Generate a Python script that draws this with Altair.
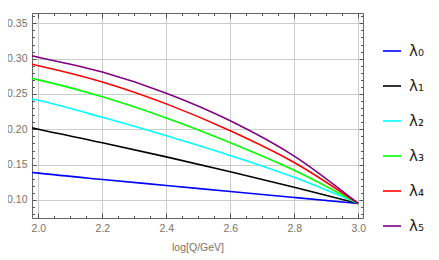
import altair as alt
import pandas as pd

# data
log_q = [1.98, 2.0, 2.2, 2.4, 2.6, 2.8, 3.0]
lam0 = [0.139, 0.138, 0.129, 0.1205, 0.112, 0.1035, 0.095]
lam1 = [0.202, 0.200, 0.181, 0.161, 0.140, 0.118, 0.095]
lam2 = [0.243, 0.241, 0.217, 0.191, 0.163, 0.132, 0.095]
lam3 = [0.272, 0.270, 0.246, 0.216, 0.181, 0.142, 0.095]
lam4 = [0.292, 0.290, 0.267, 0.236, 0.198, 0.153, 0.095]
lam5 = [0.304, 0.302, 0.281, 0.251, 0.212, 0.162, 0.095]
names = ["λ₀", "λ₁", "λ₂", "λ₃", "λ₄", "λ₅"]
colors = ["#0000ff", "#000000", "#00ffff", "#00ff00", "#ff0000", "#800080"]
x_major = [2.0, 2.2, 2.4, 2.6, 2.8, 3.0]
x_minor = [round(2.0 + 0.05 * i, 2) for i in range(21)]
y_major = [0.10, 0.15, 0.20, 0.25, 0.30, 0.35]
y_minor = [round(0.08 + 0.01 * i, 2) for i in range(29)]

rows = []
for name, series in zip(names, [lam0, lam1, lam2, lam3, lam4, lam5]):
    for xv, yv in zip(log_q, series):
        rows.append({"x": xv, "y": yv, "s": name})
df = pd.DataFrame(rows)

xs = alt.Scale(domain=[1.98, 3.015], nice=False, zero=False)
ys = alt.Scale(domain=[0.0745, 0.3646], nice=False, zero=False)
tick_col = "#555555"
lab_col = "#7a7266"


def ax(orient, values, size):
    return alt.Axis(orient=orient, values=values, domain=False, labels=False,
                    grid=False, title=None, tickColor=tick_col, tickWidth=1,
                    ticks=True, tickSize=size, offset=-size)


def layer(xaxis, yaxis, real=False):
    ch = alt.Chart(df)
    if real:
        m = ch.mark_line(strokeWidth=1.6, clip=True, interpolate="monotone")
        color = alt.Color("s:N", scale=alt.Scale(domain=names, range=colors),
                          sort=names,
                          legend=alt.Legend(title=None, orient="none",
                                            legendX=350, legendY=28,
                                            symbolType="stroke",
                                            symbolSize=324,
                                            symbolStrokeWidth=1.6,
                                            rowPadding=17, padding=0,
                                            labelOffset=7,
                                            labelFont="DejaVu Sans",
                                            labelFontSize=15,
                                            labelColor="#222222"))
        return m.encode(x=alt.X("x:Q", scale=xs, axis=xaxis),
                        y=alt.Y("y:Q", scale=ys, axis=yaxis), color=color)
    m = ch.mark_line(opacity=0, clip=True)
    return m.encode(x=alt.X("x:Q", scale=xs, axis=xaxis),
                    y=alt.Y("y:Q", scale=ys, axis=yaxis), detail="s:N")


title_x = alt.Axis(orient="bottom", values=x_major, domain=False, ticks=False,
                   grid=True, gridColor="#cccccc", format=".1f",
                   labelFont="Liberation Sans", labelFontSize=10.5,
                   labelColor=lab_col, labelPadding=5,
                   title="log[Q/GeV]", titleFont="Liberation Sans",
                   titleFontSize=10.5, titleFontWeight="normal",
                   titleColor=lab_col, titlePadding=9)
title_y = alt.Axis(orient="left", values=y_major, domain=False, ticks=False,
                   grid=True, gridColor="#cccccc", format=".2f",
                   labelFont="Liberation Sans", labelFontSize=10.5,
                   labelColor=lab_col, labelPadding=5, title=None)

layers = [
    layer(title_x, title_y, real=True),
    layer(ax("bottom", x_major, 5), ax("left", y_major, 4)),
    layer(ax("bottom", x_minor, 2.5), ax("left", y_minor, 2.5)),
    layer(ax("top", x_major, 5), ax("right", y_major, 4)),
    layer(ax("top", x_minor, 2.5), ax("right", y_minor, 2.5)),
]

chart = alt.layer(*layers).resolve_scale(x="shared", y="shared").resolve_axis(
    x="independent", y="independent"
).properties(
    width=331, height=205,
    autosize=alt.AutoSizeParams(type="none"),
    padding={"left": 24, "top": 5, "right": 68, "bottom": 36},
).configure_view(stroke="#666666", strokeWidth=1)

chart.save("out.html", embed_options={"renderer": "svg", "actions": False})
